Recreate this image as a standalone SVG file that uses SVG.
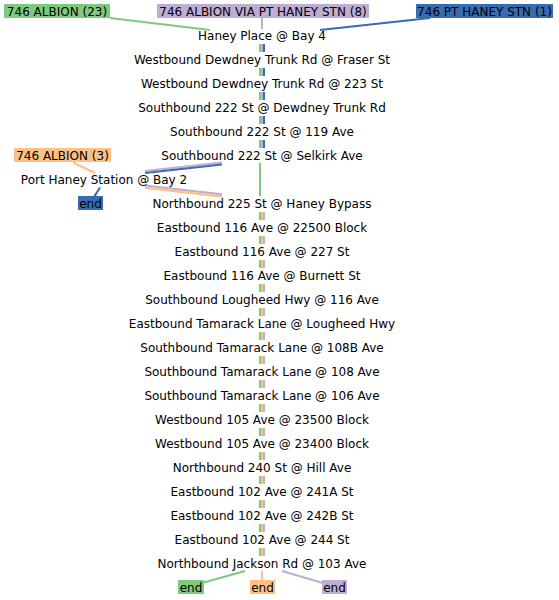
<svg xmlns="http://www.w3.org/2000/svg" width="559" height="600" viewBox="0 0 559 600">
<style>
text{font-family:"DejaVu Sans",sans-serif;font-size:12px;fill:#000;text-anchor:middle}
.l{fill:none;stroke-width:2.2}
.v{fill:none;stroke-width:2}
.g{stroke:#7fc97f}.p{stroke:#beaed4}.b{stroke:#386cb0}.o{stroke:#fdc086}
.fg{fill:#7fc97f}.fp{fill:#beaed4}.fb{fill:#386cb0}.fo{fill:#fdc086}
</style>
<rect width="559" height="600" fill="#fff"/>
<g id="connectors">
<line class="l g" x1="110" y1="18" x2="210" y2="30"/>
<line class="v p" x1="262" y1="18" x2="262" y2="29"/>
<line class="l b" x1="430" y1="18" x2="320" y2="30"/>
<path class="v g" d="M260 44V52M260 68V76M260 92V100M260 116V124M260 140V148"/>
<path class="v p" d="M262 44V52M262 68V76M262 92V100M262 116V124M262 140V148"/>
<path class="v b" d="M264 44V52M264 68V76M264 92V100M264 116V124M264 140V148"/>
<line class="v g" x1="260" y1="163" x2="260" y2="196"/>
<line class="l p" x1="222" y1="162.5" x2="145" y2="171"/>
<line class="l b" x1="222" y1="164.5" x2="145" y2="173"/>
<line class="l p" x1="145" y1="185.5" x2="222" y2="194.3"/>
<line class="l o" x1="145" y1="187.7" x2="222" y2="196.6"/>
<line class="l o" x1="73" y1="162.5" x2="95" y2="173"/>
<line class="l b" x1="100" y1="187.5" x2="94" y2="197"/>
<path class="v g" d="M260 212V220M260 236V244M260 260V268M260 284V292M260 308V316M260 332V340M260 356V364M260 380V388M260 404V412M260 428V436M260 452V460M260 476V484M260 500V508M260 524V532M260 548V556"/>
<path class="v o" d="M262 212V220M262 236V244M262 260V268M262 284V292M262 308V316M262 332V340M262 356V364M262 380V388M262 404V412M262 428V436M262 452V460M262 476V484M262 500V508M262 524V532M262 548V556"/>
<path class="v p" d="M264 212V220M264 236V244M264 260V268M264 284V292M264 308V316M264 332V340M264 356V364M264 380V388M264 404V412M264 428V436M264 452V460M264 476V484M264 500V508M264 524V532M264 548V556"/>
<line class="l g" x1="245" y1="571" x2="202" y2="583"/>
<line class="v o" x1="262" y1="571" x2="262" y2="580"/>
<line class="l p" x1="282" y1="571" x2="323" y2="583"/>
</g>
<g id="label-albion23"><rect class="fg" x="4" y="4" width="106" height="14"/><text x="57" y="15.5">746 ALBION (23)</text></g>
<g id="label-albion-via"><rect class="fp" x="157" y="4" width="212" height="14"/><text x="263" y="15.5">746 ALBION VIA PT HANEY STN (8)</text></g>
<g id="label-pthaney"><rect class="fb" x="416" y="4" width="137" height="14"/><text x="484.5" y="15.5">746 PT HANEY STN (1)</text></g>
<g id="label-albion3"><rect class="fo" x="14" y="148" width="97" height="14"/><text x="62.5" y="159.5">746 ALBION (3)</text></g>
<g id="stops">
<text x="262" y="39.5">Haney Place @ Bay 4</text>
<text x="262" y="63.5">Westbound Dewdney Trunk Rd @ Fraser St</text>
<text x="262" y="87.5">Westbound Dewdney Trunk Rd @ 223 St</text>
<text x="262" y="111.5">Southbound 222 St @ Dewdney Trunk Rd</text>
<text x="262" y="135.5">Southbound 222 St @ 119 Ave</text>
<text x="262" y="159.5">Southbound 222 St @ Selkirk Ave</text>
<text x="104" y="183.5">Port Haney Station @ Bay 2</text>
<text x="262" y="207.5">Northbound 225 St @ Haney Bypass</text>
<text x="262" y="231.5">Eastbound 116 Ave @ 22500 Block</text>
<text x="262" y="255.5">Eastbound 116 Ave @ 227 St</text>
<text x="262" y="279.5">Eastbound 116 Ave @ Burnett St</text>
<text x="262" y="303.5">Southbound Lougheed Hwy @ 116 Ave</text>
<text x="262" y="327.5">Eastbound Tamarack Lane @ Lougheed Hwy</text>
<text x="262" y="351.5">Southbound Tamarack Lane @ 108B Ave</text>
<text x="262" y="375.5">Southbound Tamarack Lane @ 108 Ave</text>
<text x="262" y="399.5">Southbound Tamarack Lane @ 106 Ave</text>
<text x="262" y="423.5">Westbound 105 Ave @ 23500 Block</text>
<text x="262" y="447.5">Westbound 105 Ave @ 23400 Block</text>
<text x="262" y="471.5">Northbound 240 St @ Hill Ave</text>
<text x="262" y="495.5">Eastbound 102 Ave @ 241A St</text>
<text x="262" y="519.5">Eastbound 102 Ave @ 242B St</text>
<text x="262" y="543.5">Eastbound 102 Ave @ 244 St</text>
<text x="262" y="567.5">Northbound Jackson Rd @ 103 Ave</text>
</g>
<g id="end-blue"><rect class="fb" x="78" y="196" width="25" height="14"/><text x="90.5" y="207.5">end</text></g>
<g id="end-green"><rect class="fg" x="178" y="580" width="26" height="14"/><text x="191" y="591.5">end</text></g>
<g id="end-orange"><rect class="fo" x="250" y="580" width="25" height="14"/><text x="262.5" y="591.5">end</text></g>
<g id="end-purple"><rect class="fp" x="322" y="580" width="25" height="14"/><text x="334.5" y="591.5">end</text></g>
</svg>
